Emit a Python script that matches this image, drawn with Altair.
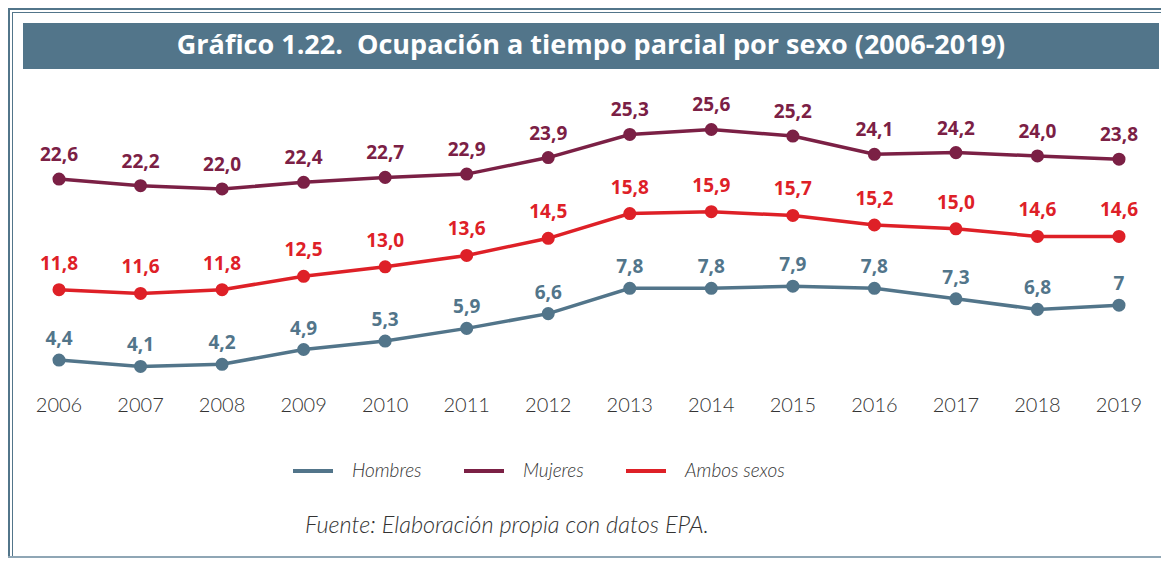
import altair as alt
import pandas as pd

# ---------------- data ----------------
years = list(range(2006, 2020))
series_names = ["Hombres", "Mujeres", "Ambos sexos"]
hombres = [4.4, 4.1, 4.2, 4.9, 5.3, 5.9, 6.6, 7.8, 7.8, 7.9, 7.8, 7.3, 6.8, 7]
mujeres = [22.6, 22.2, 22.0, 22.4, 22.7, 22.9, 23.9, 25.3, 25.6, 25.2, 24.1, 24.2, 24.0, 23.8]
ambos = [11.8, 11.6, 11.8, 12.5, 13.0, 13.6, 14.5, 15.8, 15.9, 15.7, 15.2, 15.0, 14.6, 14.6]
colors = ["#52758A", "#7B2045", "#DE2027"]

title_text = "Gráfico 1.22.\u00a0 Ocupación a tiempo parcial por sexo (2006-2019)"
source_text = "Fuente: Elaboración propia con datos EPA."

values = {"Hombres": hombres, "Mujeres": mujeres, "Ambos sexos": ambos}
rows = []
for s in series_names:
    for y, v in zip(years, values[s]):
        rows.append({"year": y, "serie": s, "value": float(v),
                     "label": str(v).replace(".", ",")})
df = pd.DataFrame(rows)
df_years = pd.DataFrame({"year": years, "ylabel": [str(y) for y in years]})

# ---------------- scales ----------------
W, H = 1153, 550
xscale = alt.Scale(domain=[2006, 2019], range=[51, 1111])
yscales = {
    "Hombres": alt.Scale(domain=[0, 10], range=[445, 233.8]),
    "Mujeres": alt.Scale(domain=[20, 30], range=[214.0, 48.8]),
    "Ambos sexos": alt.Scale(domain=[10, 20], range=[315.9, 125.7]),
}
label_dy = {"Hombres": -21, "Mujeres": -24, "Ambos sexos": -26}
color_scale = alt.Scale(domain=series_names, range=colors)

FONT = "Lato"
NUMFONT = "Open Sans"

layers = []

# frame and title bar
one = pd.DataFrame({"t": [title_text]})
frame_color = "#52758A"
layers.append(alt.Chart(one).mark_rule(color=frame_color, strokeWidth=2).encode(
    x=alt.value(0), x2=alt.value(W), y=alt.value(1), y2=alt.value(1)))
layers.append(alt.Chart(one).mark_rule(color=frame_color, strokeWidth=1).encode(
    x=alt.value(4), x2=alt.value(W), y=alt.value(4.5), y2=alt.value(4.5)))
layers.append(alt.Chart(one).mark_rule(color=frame_color, strokeWidth=2).encode(
    x=alt.value(1), x2=alt.value(1), y=alt.value(0), y2=alt.value(H)))
layers.append(alt.Chart(one).mark_rule(color=frame_color, strokeWidth=1).encode(
    x=alt.value(4.5), x2=alt.value(4.5), y=alt.value(4), y2=alt.value(H)))
layers.append(alt.Chart(one).mark_rule(color="#8FA6B5", strokeWidth=2).encode(
    x=alt.value(0), x2=alt.value(W), y=alt.value(H - 1), y2=alt.value(H - 1)))
layers.append(alt.Chart(one).mark_rect(color=frame_color).encode(
    x=alt.value(15), x2=alt.value(1151), y=alt.value(15), y2=alt.value(61)))
layers.append(alt.Chart(one).mark_text(
    font=NUMFONT, fontWeight="bold", fontSize=27, color="white",
    align="center", baseline="middle").encode(
    x=alt.value(583), y=alt.value(38), text="t:N"))

# year labels
layers.append(alt.Chart(df_years).mark_text(
    font=FONT, fontWeight=300, fontSize=20, color="#333333",
    align="center", baseline="middle").encode(
    x=alt.X("year:Q", scale=xscale, axis=None),
    y=alt.value(398), text="ylabel:N"))

# series
for s, c in zip(series_names, colors):
    base = alt.Chart(df).transform_filter(alt.datum.serie == s)
    y_enc = alt.Y("value:Q", scale=yscales[s], axis=None)
    x_enc = alt.X("year:Q", scale=xscale, axis=None)
    layers.append(base.mark_line(strokeWidth=3.5).encode(
        x=x_enc, y=y_enc,
        color=alt.Color("serie:N", scale=color_scale, sort=series_names,
                        legend=alt.Legend(
                            orient="none", legendX=283, legendY=441,
                            direction="horizontal", title=None,
                            symbolType="stroke", symbolSize=1600,
                            symbolStrokeWidth=4, labelFont=FONT,
                            labelFontStyle="italic", labelFontWeight=300,
                            labelFontSize=19, labelColor="#333333",
                            labelOffset=17, columnPadding=34))))
    layers.append(base.mark_point(filled=True, size=170, opacity=1, color=c).encode(
        x=x_enc, y=y_enc))
    layers.append(base.mark_text(
        font=NUMFONT, fontWeight="bold", fontSize=19, color=c,
        align="center", baseline="middle", dy=label_dy[s]).encode(
        x=x_enc, y=y_enc, text="label:N"))

# source
layers.append(alt.Chart(pd.DataFrame({"t": [source_text]})).mark_text(
    font=FONT, fontStyle="italic", fontWeight=300, fontSize=23.5,
    color="#333333", align="left", baseline="middle").encode(
    x=alt.value(297), y=alt.value(518), text="t:N"))

chart = alt.layer(*layers).resolve_scale(y="independent").properties(
    width=W, height=H, padding=0, autosize="none"
).configure_view(stroke=None)

chart.save("out.html", embed_options={"renderer": "svg", "actions": False})
